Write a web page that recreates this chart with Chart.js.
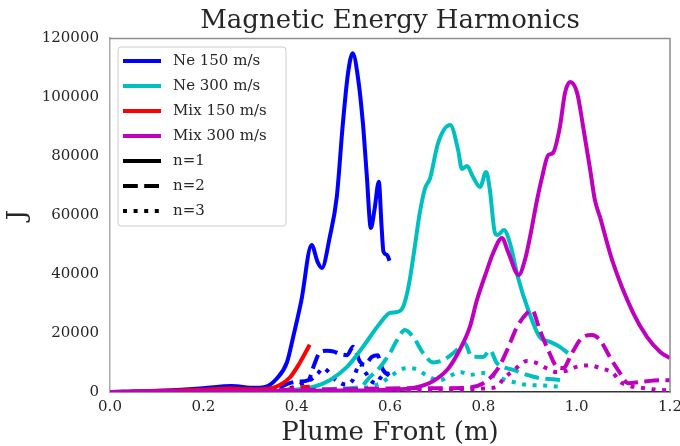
<!DOCTYPE html>
<html>
<head>
<meta charset="utf-8">
<script src="https://cdn.jsdelivr.net/npm/chart.js@4"></script>
<style>
  html, body { margin: 0; padding: 0; background: #ffffff; }
  #wrap { width: 680px; height: 446px; position: relative; }
</style>
</head>
<body>
<div id="wrap"><canvas id="c" width="680" height="446"></canvas></div>
<script>
// ---------------- data ----------------
const chartTitle = "Magnetic Energy Harmonics";
const seriesNames = ["Ne 150 m/s", "Ne 300 m/s", "Mix 150 m/s", "Mix 300 m/s"];
const harmonicNames = ["n=1", "n=2", "n=3"];
const xTickLabels = ["0.0", "0.2", "0.4", "0.6", "0.8", "1.0", "1.2"];
const yTickLabels = ["0", "20000", "40000", "60000", "80000", "100000", "120000"];

// Ne 150 m/s
const ne150_n1_x = [0, 0.1, 0.2, 0.26, 0.31, 0.33, 0.357, 0.379, 0.393, 0.41, 0.432, 0.445, 0.454, 0.471, 0.486, 0.499, 0.51, 0.52, 0.531, 0.542, 0.55, 0.559, 0.567, 0.576, 0.582, 0.586, 0.594, 0.599];
const ne150_n1_y = [0, 400, 1300, 2000, 1400, 1600, 4500, 10000, 19000, 31000, 49800, 44000, 42000, 52600, 66200, 91000, 108000, 114800, 107000, 91000, 74000, 55600, 62000, 71300, 56000, 47600, 46400, 44500];
const ne150_n2_x = [0, 0.2, 0.3, 0.36, 0.385, 0.405, 0.425, 0.437, 0.45, 0.465, 0.48, 0.49, 0.508, 0.521, 0.536, 0.546, 0.561, 0.574, 0.579, 0.585, 0.598];
const ne150_n2_y = [0, 300, 500, 1500, 3000, 3500, 4000, 9000, 13500, 14000, 13700, 13000, 12500, 15300, 10200, 9200, 11900, 12500, 9800, 7500, 5500];
const ne150_n3_x = [0, 0.2, 0.3, 0.37, 0.4, 0.42, 0.435, 0.446, 0.457, 0.468, 0.479, 0.49, 0.505, 0.52, 0.536, 0.543, 0.551, 0.558, 0.572, 0.579, 0.593, 0.598];
const ne150_n3_y = [0, 100, 300, 800, 2000, 3500, 4700, 6400, 8100, 6800, 4700, 3400, 2500, 4000, 9800, 7500, 5800, 4000, 3000, 4700, 6400, 6000];

// Ne 300 m/s
const ne300_n1_x = [0, 0.1, 0.2, 0.3, 0.38, 0.435, 0.471, 0.508, 0.542, 0.579, 0.6, 0.615, 0.628, 0.64, 0.652, 0.663, 0.675, 0.686, 0.703, 0.729, 0.746, 0.754, 0.765, 0.778, 0.793, 0.806, 0.814, 0.825, 0.831, 0.844, 0.857, 0.874, 0.894, 0.921, 0.943, 0.964, 0.981];
const ne300_n1_y = [0, 100, 200, 300, 600, 1700, 4000, 8500, 15300, 23400, 26800, 27100, 28800, 36000, 48000, 60000, 69000, 72500, 84400, 90500, 82000, 75600, 76600, 72900, 69500, 74600, 68500, 53900, 53200, 54900, 50500, 39000, 28800, 18600, 17000, 15300, 13200];
const ne300_n2_x = [0, 0.2, 0.35, 0.45, 0.5, 0.536, 0.557, 0.579, 0.6, 0.615, 0.632, 0.65, 0.671, 0.693, 0.714, 0.743, 0.76, 0.775, 0.8, 0.814, 0.829, 0.842, 0.864, 0.894, 0.921, 0.964, 0.975];
const ne300_n2_y = [0, 100, 300, 800, 1200, 1700, 5100, 8500, 13200, 17600, 21000, 18600, 13200, 10000, 10800, 14200, 16600, 12000, 11900, 14200, 9800, 8500, 7500, 5800, 4700, 4000, 3400];
const ne300_n3_x = [0, 0.3, 0.45, 0.55, 0.579, 0.6, 0.621, 0.64, 0.66, 0.679, 0.707, 0.725, 0.75, 0.771, 0.8, 0.829, 0.864, 0.894, 0.93, 0.97];
const ne300_n3_y = [0, 200, 500, 1500, 3000, 5100, 7500, 8100, 7500, 5500, 4000, 5100, 6800, 5800, 6400, 5000, 3400, 2400, 2200, 1700];

// Mix 150 m/s
const mix150_n1_x = [0, 0.1, 0.2, 0.26, 0.3, 0.343, 0.364, 0.386, 0.407, 0.428];
const mix150_n1_y = [0, 300, 800, 1200, 900, 1200, 2400, 5000, 10000, 16000];
const mix150_n2_x = [0, 0.2, 0.3, 0.36, 0.38, 0.4, 0.428];
const mix150_n2_y = [0, 200, 400, 600, 800, 1500, 1800];
const mix150_n3_x = [0, 0.2, 0.3, 0.428];
const mix150_n3_y = [0, 100, 200, 300];

// Mix 300 m/s
const mix300_n1_x = [0, 0.3, 0.5, 0.6, 0.65, 0.69, 0.725, 0.75, 0.771, 0.786, 0.808, 0.821, 0.84, 0.853, 0.876, 0.889, 0.9, 0.915, 0.926, 0.939, 0.949, 0.964, 0.975, 0.986, 1.001, 1.014, 1.029, 1.039, 1.05, 1.076, 1.121, 1.151, 1.179, 1.2];
const mix300_n1_y = [0, 300, 500, 800, 1400, 3500, 8000, 14500, 22000, 31000, 41400, 47100, 52200, 47500, 39700, 44700, 52500, 65000, 72900, 80300, 81000, 89800, 101400, 105100, 101400, 89800, 75300, 65100, 59300, 44700, 26800, 18600, 13600, 11500];
const mix300_n2_x = [0, 0.3, 0.45, 0.6, 0.7, 0.765, 0.8, 0.821, 0.836, 0.851, 0.872, 0.894, 0.904, 0.921, 0.939, 0.958, 0.971, 0.99, 1.011, 1.033, 1.05, 1.071, 1.093, 1.11, 1.136, 1.179, 1.2];
const mix300_n2_y = [0, 300, 800, 1200, 1300, 1400, 3000, 5800, 9200, 14200, 22000, 26800, 27800, 21000, 14200, 8500, 8100, 13200, 18300, 19300, 17600, 11900, 6400, 3000, 3400, 4000, 4000];
const mix300_n3_x = [0, 0.4, 0.6, 0.75, 0.8, 0.829, 0.843, 0.864, 0.894, 0.915, 0.936, 0.955, 0.978, 0.999, 1.022, 1.036, 1.05, 1.078, 1.093, 1.106, 1.14, 1.179, 1.2];
const mix300_n3_y = [0, 200, 500, 800, 1200, 1700, 4500, 7200, 10500, 9800, 8000, 6800, 7200, 8500, 9000, 8800, 8100, 6400, 3500, 2400, 1400, 700, 600];

// ---------------- styling ----------------
const seriesColors = ["#0000ff", "#00bfbf", "#ff0000", "#bf00bf"];
const dashStyles = [[], [14.8, 6.4], [4, 6.6]];
const LW = 4;
const FONT = "'DejaVu Serif', 'Liberation Serif', serif";
const TEXT = "#262626";

const seriesData = [
  [[ne150_n1_x, ne150_n1_y], [ne150_n2_x, ne150_n2_y], [ne150_n3_x, ne150_n3_y]],
  [[ne300_n1_x, ne300_n1_y], [ne300_n2_x, ne300_n2_y], [ne300_n3_x, ne300_n3_y]],
  [[mix150_n1_x, mix150_n1_y], [mix150_n2_x, mix150_n2_y], [mix150_n3_x, mix150_n3_y]],
  [[mix300_n1_x, mix300_n1_y], [mix300_n2_x, mix300_n2_y], [mix300_n3_x, mix300_n3_y]]
];

const datasets = [];
let plotIndex = 0;
seriesData.forEach((harms, s) => {
  harms.forEach(([xs, ys], h) => {
    datasets.push({
      label: seriesNames[s] + " " + harmonicNames[h],
      data: xs.map((x, i) => ({ x: x, y: ys[i] })),
      borderColor: seriesColors[s],
      backgroundColor: seriesColors[s],
      borderWidth: LW,
      borderDash: dashStyles[h],
      borderCapStyle: 'butt',
      borderJoinStyle: 'round',
      pointRadius: 0,
      pointHoverRadius: 0,
      cubicInterpolationMode: 'monotone',
      fill: false,
      order: 100 - plotIndex
    });
    plotIndex++;
  });
});

// legend entries built from the names
const legendItems = seriesNames.map((n, i) => ({ text: n, color: seriesColors[i], dash: [] }))
  .concat(harmonicNames.map((n, i) => ({ text: n, color: "#000000", dash: dashStyles[i] })));

const framePlugin = {
  id: 'mplFrame',
  afterDatasetsDraw(chart) {
    const ctx = chart.ctx, a = chart.chartArea;
    ctx.save();
    ctx.setLineDash([]);
    ctx.lineWidth = 1.5;
    ctx.strokeStyle = '#8c8c8c';
    ctx.beginPath();
    ctx.moveTo(a.left, a.top + 0.5);
    ctx.lineTo(a.right, a.top + 0.5);
    ctx.moveTo(a.right, a.top);
    ctx.lineTo(a.right, a.bottom);
    ctx.stroke();
    ctx.restore();
  },
  afterDraw(chart) {
    const ctx = chart.ctx, a = chart.chartArea;
    ctx.save();
    // title centred over the plotting area
    ctx.font = "26px " + FONT;
    ctx.fillStyle = TEXT;
    ctx.textAlign = 'center';
    ctx.textBaseline = 'middle';
    ctx.fillText(chartTitle, (a.left + a.right) / 2, 21.5);

    const bx = a.left + 8, by = a.top + 9, bw = 168, bh = 179, r = 3;
    ctx.beginPath();
    ctx.moveTo(bx + r, by);
    ctx.lineTo(bx + bw - r, by);
    ctx.arcTo(bx + bw, by, bx + bw, by + r, r);
    ctx.lineTo(bx + bw, by + bh - r);
    ctx.arcTo(bx + bw, by + bh, bx + bw - r, by + bh, r);
    ctx.lineTo(bx + r, by + bh);
    ctx.arcTo(bx, by + bh, bx, by + bh - r, r);
    ctx.lineTo(bx, by + r);
    ctx.arcTo(bx, by, bx + r, by, r);
    ctx.closePath();
    ctx.fillStyle = 'rgba(255,255,255,0.8)';
    ctx.fill();
    ctx.lineWidth = 1;
    ctx.strokeStyle = '#cccccc';
    ctx.stroke();
    ctx.font = "15px " + FONT;
    ctx.textBaseline = 'middle';
    ctx.textAlign = 'left';
    legendItems.forEach((it, i) => {
      const y = by + 14 + i * 25;
      ctx.beginPath();
      ctx.setLineDash(it.dash);
      ctx.lineWidth = LW;
      ctx.lineCap = 'butt';
      ctx.strokeStyle = it.color;
      ctx.moveTo(bx + 5, y);
      ctx.lineTo(bx + 43, y);
      ctx.stroke();
      ctx.setLineDash([]);
      ctx.fillStyle = TEXT;
      ctx.fillText(it.text, bx + 55, y);
    });
    ctx.restore();
  }
};

new Chart(document.getElementById('c'), {
  type: 'line',
  data: { datasets: datasets },
  options: {
    responsive: false,
    animation: false,
    devicePixelRatio: 1,
    layout: { padding: { left: 0, right: 10, top: 38, bottom: 0 } },
    plugins: {
      legend: { display: false },
      tooltip: { enabled: false },
      title: { display: false }
    },
    scales: {
      x: {
        type: 'linear',
        min: 0, max: 1.2,
        grid: { display: false, drawTicks: false },
        border: { display: true, color: '#333333', width: 1.5 },
        ticks: {
          stepSize: 0.2,
          padding: 6,
          color: TEXT,
          font: { family: FONT, size: 15 },
          maxRotation: 0,
          callback: (v) => { const i = Math.round(v / 0.2); return xTickLabels[i]; }
        },
        title: {
          display: true,
          text: 'Plume Front (m)',
          color: TEXT,
          font: { family: FONT, size: 26, lineHeight: 1.0 },
          padding: { top: 0, bottom: 0 }
        },
        afterFit: (scale) => { scale.height = 54; scale.paddingLeft = 0; scale.paddingRight = 0; }
      },
      y: {
        type: 'linear',
        min: 0, max: 120000,
        grid: { display: false, drawTicks: false },
        border: { display: true, color: '#a8a8a8', width: 1.5 },
        ticks: {
          stepSize: 20000,
          padding: 11,
          color: TEXT,
          font: { family: FONT, size: 15 },
          callback: (v) => yTickLabels[Math.round(v / 20000)]
        },
        title: {
          display: true,
          text: 'J',
          color: TEXT,
          font: { family: FONT, size: 26, lineHeight: 1.0 },
          padding: { top: 5, bottom: 0 }
        },
        afterFit: (scale) => { scale.width = 110; scale.paddingTop = 0; scale.paddingBottom = 0; }
      }
    }
  },
  plugins: [framePlugin]
});
</script>
</body>
</html>
